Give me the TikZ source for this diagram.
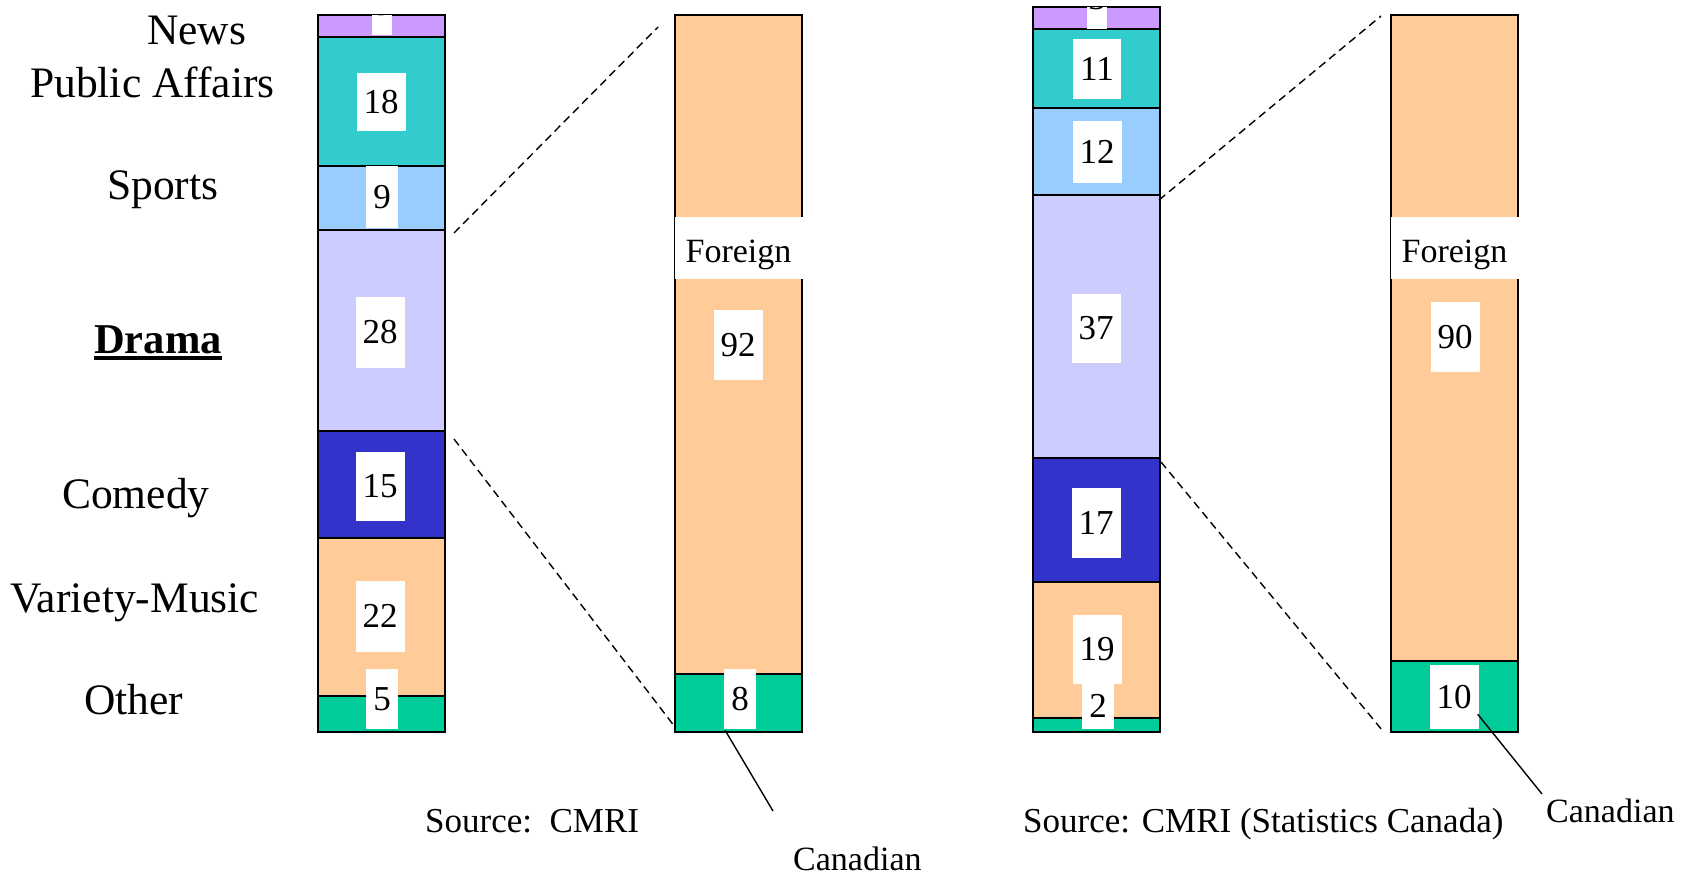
\documentclass[tikz,border=0pt]{standalone}
\usepackage{fontspec}
\setmainfont{Liberation Serif}
\definecolor{cnews}{HTML}{CC99FF}
\definecolor{cpub}{HTML}{33CCCC}
\definecolor{csport}{HTML}{99CCFF}
\definecolor{cdrama}{HTML}{CCCCFF}
\definecolor{ccom}{HTML}{3333CC}
\definecolor{cvar}{HTML}{FFCC99}
\definecolor{coth}{HTML}{00CC99}
\begin{document}
\begin{tikzpicture}[x=1pt,y=-1pt,
  seg/.style={draw=black, line width=1.8pt},
  numbox/.style={fill=white, inner xsep=7pt, inner ysep=0pt, font=\fontsize{35}{42}\selectfont},
  catlabel/.style={anchor=base west, inner sep=0pt, font=\fontsize{43.5}{52}\selectfont},
  smalltext/.style={anchor=base west, inner sep=0pt, font=\fontsize{35}{42}\selectfont},
  forbox/.style={fill=white, inner sep=0pt, minimum width=128pt, minimum height=62pt,
    text height=23pt, text depth=0pt, font=\fontsize{34}{40}\selectfont},
  zoomline/.style={dash pattern=on 8pt off 5pt, line width=1.4pt},
  leader/.style={line width=1.4pt}]
\useasboundingbox (0,0) rectangle (1686,876);

% ---------- left category labels ----------
\node[catlabel] (lnews) at (147,44) {News};
\node[catlabel] (lpub) at (30,97) {Public Affairs};
\node[catlabel] (lsport) at (107,199) {Sports};
\node[catlabel, font=\fontsize{42.5}{50}\selectfont\bfseries] (ldrama) at (94,353) {Drama};
\draw[line width=3.5pt] ([yshift=-5pt]ldrama.base west) -- ([yshift=-5pt]ldrama.base east);
\node[catlabel] (lcom) at (62,508) {Comedy};
\node[catlabel] (lvar) at (10,612) {Variety-Music};
\node[catlabel] (loth) at (84,714) {Other};

% ---------- bar 1 (CMRI) ----------
\path[seg, fill=cnews]  (318,15)  rectangle (445,37);
\path[seg, fill=cpub]   (318,37)  rectangle (445,166);
\path[seg, fill=csport] (318,166) rectangle (445,230);
\path[seg, fill=cdrama] (318,230) rectangle (445,431);
\path[seg, fill=ccom]   (318,431) rectangle (445,538);
\path[seg, fill=cvar]   (318,538) rectangle (445,696);
\path[seg, fill=coth]   (318,696) rectangle (445,732);
\begin{scope}
  \clip (318,15) rectangle (445,732);
  \node[numbox, inner xsep=1.5pt, minimum height=62pt] (a3) at (382,4) {3};
\end{scope}
\node[numbox, minimum height=58pt] (a18) at (381,102) {18};
\node[numbox, minimum height=62pt] (a9)  at (382,197) {9};
\node[numbox, minimum height=71pt] (a28) at (380,332) {28};
\node[numbox, minimum height=69pt] (a15) at (380,486) {15};
\node[numbox, minimum height=71pt] (a22) at (380,616) {22};
\node[numbox, minimum height=60pt] (a5)  at (382,699) {5};

% ---------- zoom bar 1 ----------
\path[seg, fill=cvar] (675,15)  rectangle (802,674);
\path[seg, fill=coth] (675,674) rectangle (802,732);
\node[forbox] (fora) at (738.5,248) {\raisebox{-2.5pt}{Foreign}};
\node[numbox, minimum height=70pt] (a92) at (738,345) {92};
\node[numbox, minimum height=60pt] (a8)  at (740,699) {8};

\coordinate (z1a) at (454,233);
\coordinate (z1b) at (658,27);
\coordinate (z1c) at (454,439);
\coordinate (z1d) at (675,727);
\draw[zoomline] (z1a) -- (z1b);
\draw[zoomline] (z1c) -- (z1d);

\coordinate (c1) at (773,811);
\draw[leader] (a8.south west) ++(1,1) coordinate (c1s) (c1s) -- (c1);
\node[smalltext, font=\fontsize{34}{40}\selectfont] (cana) at (793,870) {Canadian};
\node[smalltext] (srca) at (425,832) {Source:\ \ CMRI};

% ---------- bar 2 (Statistics Canada) ----------
\path[seg, fill=cnews]  (1033,7)   rectangle (1160,29);
\path[seg, fill=cpub]   (1033,29)  rectangle (1160,108);
\path[seg, fill=csport] (1033,108) rectangle (1160,195);
\path[seg, fill=cdrama] (1033,195) rectangle (1160,458);
\path[seg, fill=ccom]   (1033,458) rectangle (1160,582);
\path[seg, fill=cvar]   (1033,582) rectangle (1160,718);
\path[seg, fill=coth]   (1033,718) rectangle (1160,732);
\begin{scope}
  \clip (1033,7) rectangle (1160,732);
  \node[numbox, inner xsep=1.5pt, minimum height=62pt] (b3) at (1097,-2) {3};
\end{scope}
\node[numbox, minimum height=60pt] (b11) at (1097,69) {11};
\node[numbox, minimum height=62pt] (b12) at (1097,152) {12};
\node[numbox, minimum height=69pt] (b37) at (1096,328) {37};
\node[numbox, minimum height=70pt] (b17) at (1096,523) {17};
\node[numbox, minimum height=69pt] (b19) at (1097,649) {19};
\node[numbox, minimum height=46pt] (b2)  at (1098,706) {2};

% ---------- zoom bar 2 ----------
\path[seg, fill=cvar] (1391,15)  rectangle (1518,661);
\path[seg, fill=coth] (1391,661) rectangle (1518,732);
\node[forbox] (forb) at (1454.5,248) {\raisebox{-2.5pt}{Foreign}};
\node[numbox, minimum height=70pt] (b90) at (1455,337) {90};
\node[numbox, minimum height=64pt] (b10) at (1454,697) {10};

\coordinate (z2a) at (1159,200);
\coordinate (z2b) at (1381,16);
\coordinate (z2c) at (1161,462);
\coordinate (z2d) at (1382,730);
\draw[zoomline] (z2a) -- (z2b);
\draw[zoomline] (z2c) -- (z2d);

\coordinate (c2) at (1542,794);
\draw[leader] (b10.south east) ++(-1,-15) coordinate (c2s) (c2s) -- (c2);
\node[smalltext, font=\fontsize{34}{40}\selectfont] (canb) at (1546,822) {Canadian};
\node[smalltext] (srcb) at (1023,832) {Source: CMRI (Statistics Canada)};
\end{tikzpicture}
\end{document}
